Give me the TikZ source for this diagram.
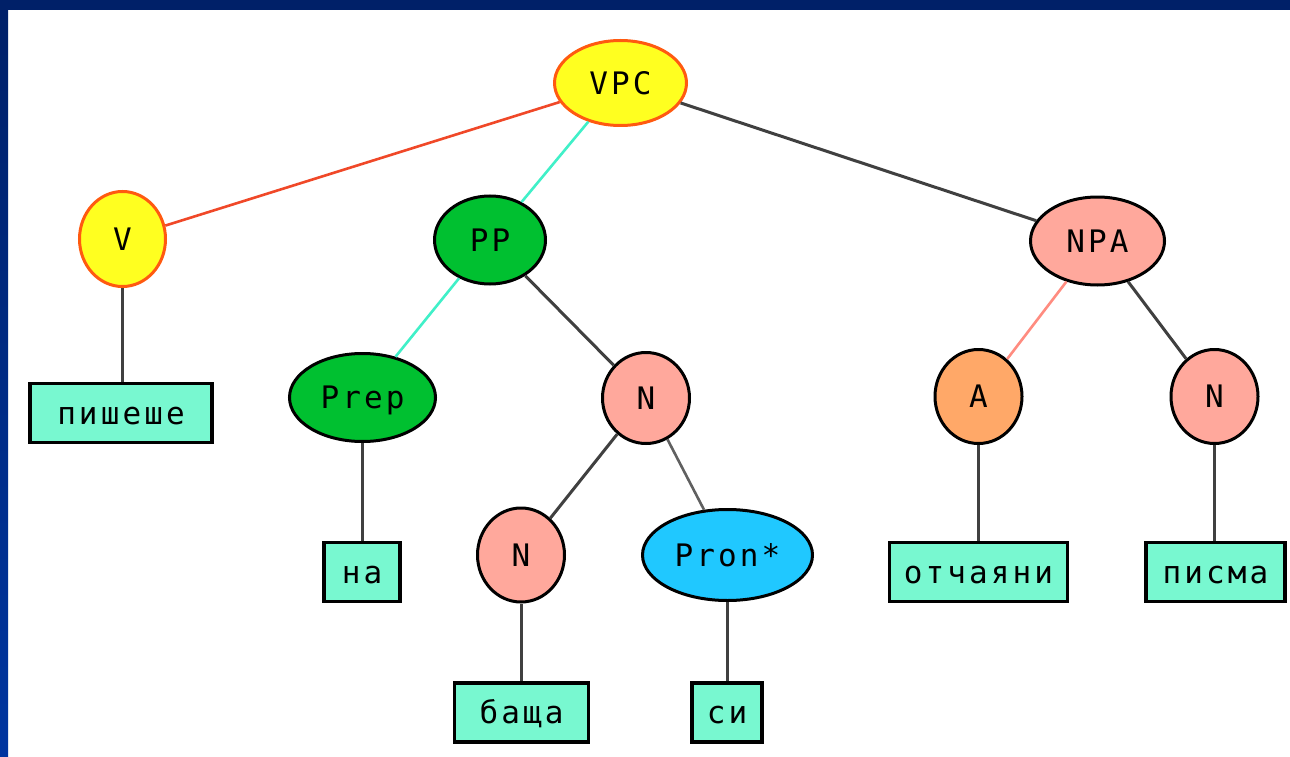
\documentclass[tikz,border=0pt]{standalone}
\usepackage{fontspec}
\newfontfamily\pixfont[LetterSpace=10]{DejaVu Sans Mono}
\usetikzlibrary{shapes.geometric}

\definecolor{framenavy}{HTML}{002068}
\definecolor{framenavylow}{HTML}{0035A0}
\definecolor{catyellow}{HTML}{FFFF20}
\definecolor{catorange}{HTML}{FF5A10}
\definecolor{catgreen}{HTML}{00C030}
\definecolor{catsalmon}{HTML}{FFA89C}
\definecolor{catpeach}{HTML}{FFA868}
\definecolor{catblue}{HTML}{20C8FF}
\definecolor{leafaqua}{HTML}{78F8D0}
\definecolor{edgered}{HTML}{F04828}
\definecolor{edgecyan}{HTML}{40F0C8}
\definecolor{edgepink}{HTML}{FF8C80}
\definecolor{edgedark}{HTML}{404040}
\definecolor{edgegray}{HTML}{606060}

\begin{document}
\begin{tikzpicture}[x=1pt,y=-1pt,
  catnode/.style={ellipse, draw=black, line width=3pt, inner sep=0pt,
    font=\pixfont\fontsize{31}{31}\selectfont, text height=22.6pt, text depth=0pt},
  leafbox/.style={rectangle, draw=black, fill=leafaqua, line width=3.4pt, inner sep=0pt,
    minimum height=59pt, font=\pixfont\fontsize{31}{31}\selectfont,
    text height=22.6pt, text depth=0pt},
  tie/.style={draw=edgedark, line width=3pt},
  tiered/.style={draw=edgered, line width=2.6pt},
  tiecyan/.style={draw=edgecyan, line width=2.6pt},
  tiepink/.style={draw=edgepink, line width=2.6pt},
  tiegray/.style={draw=edgegray, line width=2.6pt}]

\useasboundingbox (0,0) rectangle (1290,757);
\fill[white] (0,0) rectangle (1290,757);
% frame bars
\shade[top color=framenavy, bottom color=framenavylow] (0,0) rectangle (8,757);
\fill[framenavy] (0,0) rectangle (1290,10);

% phrase and category nodes
\node[catnode, fill=catyellow, draw=catorange, minimum width=132pt, minimum height=85pt] (vpc) at (620.5,83) {VPC};
\node[catnode, fill=catyellow, draw=catorange, minimum width=86pt, minimum height=95pt] (v) at (122.5,239) {V};
\node[catnode, fill=catgreen, minimum width=111pt, minimum height=88pt] (pp) at (490,240) {PP};
\node[catnode, fill=catgreen, minimum width=146pt, minimum height=88pt] (prep) at (362.5,397.5) {Prep};
\node[catnode, fill=catsalmon, minimum width=87pt, minimum height=91pt] (n1) at (646,398) {N};
\node[catnode, fill=catsalmon, minimum width=87pt, minimum height=94pt] (n2) at (521,555) {N};
\node[catnode, fill=catblue, minimum width=170pt, minimum height=91pt] (pron) at (727.5,555) {Pron*};
\node[catnode, fill=catsalmon, minimum width=134pt, minimum height=88pt] (npa) at (1097.5,241) {NPA};
\node[catnode, fill=catpeach, minimum width=87pt, minimum height=94pt] (adj) at (978.5,396.5) {A};
\node[catnode, fill=catsalmon, minimum width=87pt, minimum height=94pt] (n3) at (1214.5,396.5) {N};

% word boxes
\node[leafbox, minimum width=182pt] (w1) at (121,413) {пишеше};
\node[leafbox, minimum width=76pt] (w2) at (362,572) {на};
\node[leafbox, minimum width=134pt] (w3) at (521.5,712.5) {баща};
\node[leafbox, minimum width=70pt] (w4) at (727,712.5) {си};
\node[leafbox, minimum width=178pt] (w5) at (978.5,572) {отчаяни};
\node[leafbox, minimum width=139pt] (w6) at (1215.5,572) {писма};

% branches
\draw[tiered] (vpc) -- (v);
\draw[tiecyan] (vpc) -- (pp);
\draw[tie] (vpc) -- (npa);
\draw[tiecyan] (pp) -- (prep);
\draw[tie] (pp) -- (n1);
\draw[tie] (n1) -- (n2);
\draw[tiegray] (n1) -- (pron);
\draw[tiepink] (npa) -- (adj);
\draw[tie] (npa) -- (n3);

% lexical links
\draw[tie] (v.south) -- (v.south |- w1.north);
\draw[tie] (prep.south) -- (prep.south |- w2.north);
\draw[tie] (n2.south) -- (n2.south |- w3.north);
\draw[tie] (pron.south) -- (pron.south |- w4.north);
\draw[tie] (adj.south) -- (adj.south |- w5.north);
\draw[tie] (n3.south) -- (n3.south |- w6.north);
\end{tikzpicture}
\end{document}
